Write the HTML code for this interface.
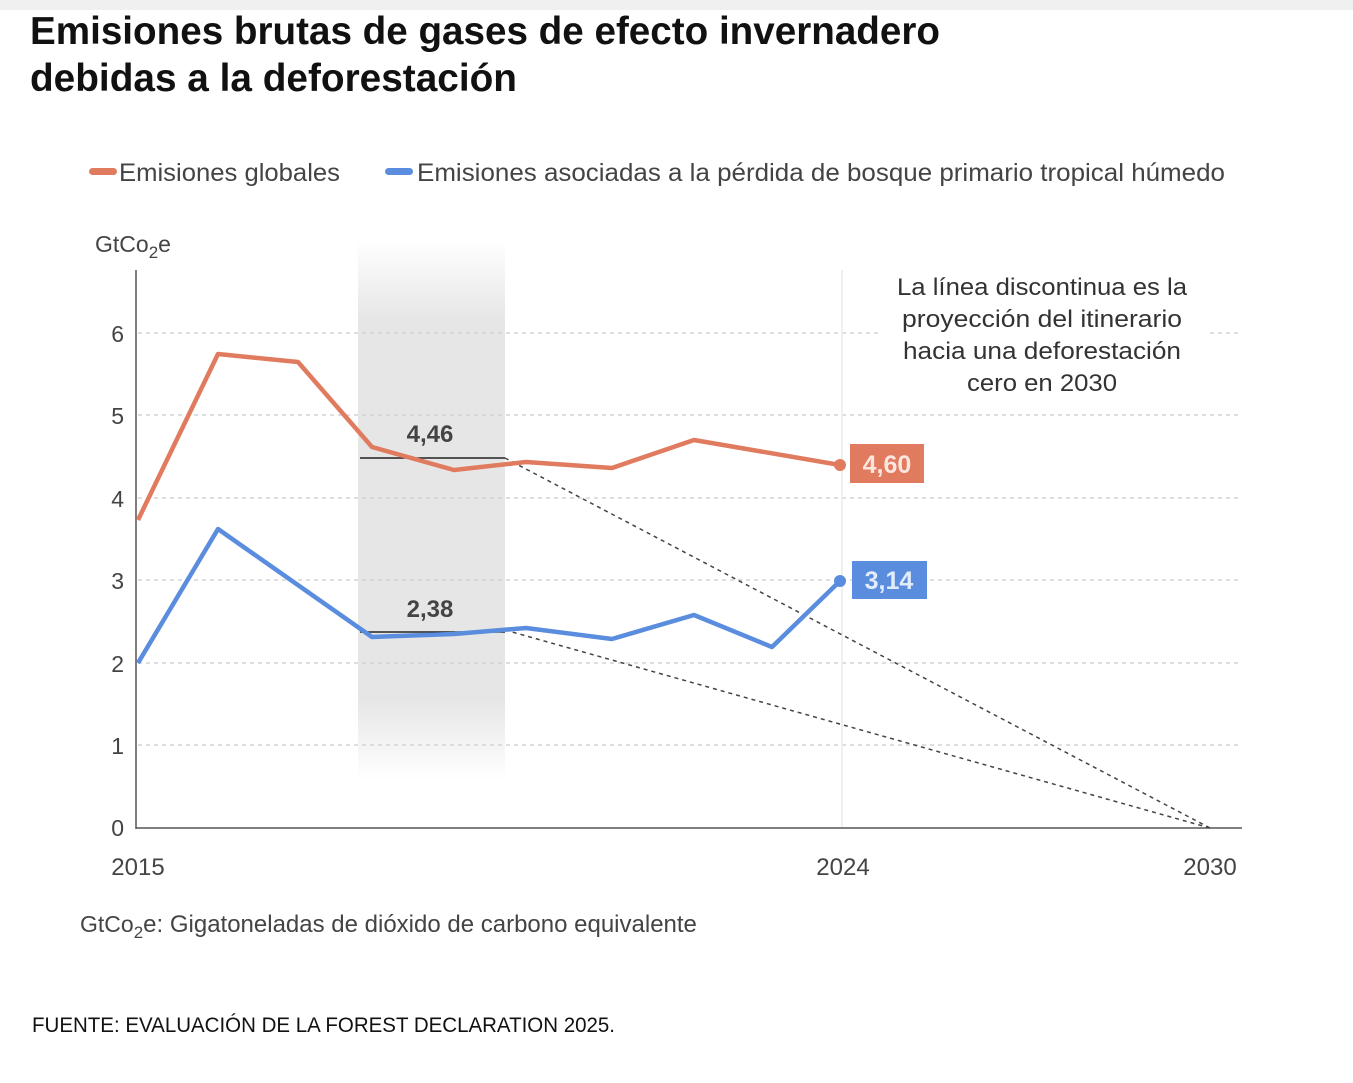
<!DOCTYPE html>
<html><head><meta charset="utf-8"><style>
body{margin:0;background:#fff;width:1353px;height:1078px;overflow:hidden;font-family:"Liberation Sans",sans-serif}
</style></head><body>
<svg width="1353" height="1078" xmlns="http://www.w3.org/2000/svg" font-family="Liberation Sans, sans-serif">
<defs>
<linearGradient id="g" x1="0" y1="0" x2="0" y2="1">
<stop offset="0" stop-color="#e6e6e6" stop-opacity="0"/>
<stop offset="0.15" stop-color="#e6e6e6"/>
<stop offset="0.85" stop-color="#e6e6e6"/>
<stop offset="1" stop-color="#e6e6e6" stop-opacity="0"/>
</linearGradient>
</defs>
<rect x="0" y="0" width="1353" height="10" fill="#f0f0f0"/>
<text x="30" y="44" font-size="39" font-weight="bold" fill="#111" textLength="910" lengthAdjust="spacingAndGlyphs">Emisiones brutas de gases de efecto invernadero</text>
<text x="30" y="91" font-size="39" font-weight="bold" fill="#111" textLength="487" lengthAdjust="spacingAndGlyphs">debidas a la deforestación</text>
<rect x="89" y="168" width="28" height="7" rx="3.5" fill="#e07b5f"/>
<text x="119" y="181" font-size="25" fill="#444" textLength="221" lengthAdjust="spacingAndGlyphs">Emisiones globales</text>
<rect x="385" y="168" width="28" height="7" rx="3.5" fill="#5b8ddf"/>
<text x="417" y="181" font-size="25" fill="#444" textLength="808" lengthAdjust="spacingAndGlyphs">Emisiones asociadas a la pérdida de bosque primario tropical húmedo</text>
<text x="95" y="252" font-size="23" fill="#444">GtCo<tspan font-size="17" dy="6">2</tspan><tspan dy="-6">e</tspan></text>
<rect x="358" y="240" width="147" height="540" fill="url(#g)"/>
<g stroke="#d4d4d4" stroke-width="1.5" stroke-dasharray="4,4">
<line x1="138" y1="333" x2="1242" y2="333"/><line x1="138" y1="415" x2="1242" y2="415"/>
<line x1="138" y1="498" x2="1242" y2="498"/><line x1="138" y1="580" x2="1242" y2="580"/>
<line x1="138" y1="663" x2="1242" y2="663"/><line x1="138" y1="745" x2="1242" y2="745"/>
</g>
<rect x="880" y="270" width="330" height="130" fill="#fff"/>
<line x1="842" y1="270" x2="842" y2="828" stroke="#eaeaea" stroke-width="1.5"/>
<line x1="136" y1="270" x2="136" y2="829" stroke="#555" stroke-width="1.5"/>
<line x1="136" y1="828" x2="1242" y2="828" stroke="#555" stroke-width="1.5"/>
<g font-size="23" fill="#444" text-anchor="end">
<text x="124" y="342">6</text><text x="124" y="424">5</text><text x="124" y="507">4</text>
<text x="124" y="589">3</text><text x="124" y="672">2</text><text x="124" y="754">1</text><text x="124" y="836">0</text>
</g>
<g font-size="24" fill="#444" text-anchor="middle">
<text x="138" y="875">2015</text><text x="843" y="875">2024</text><text x="1210" y="875">2030</text>
</g>
<g font-size="24" fill="#333" text-anchor="middle">
<text x="1042" y="295" textLength="290" lengthAdjust="spacingAndGlyphs">La línea discontinua es la</text>
<text x="1042" y="327" textLength="280" lengthAdjust="spacingAndGlyphs">proyección del itinerario</text>
<text x="1042" y="359" textLength="278" lengthAdjust="spacingAndGlyphs">hacia una deforestación</text>
<text x="1042" y="391" textLength="150" lengthAdjust="spacingAndGlyphs">cero en 2030</text>
</g>
<g stroke="#444" stroke-width="1.5" stroke-dasharray="4,4" fill="none">
<line x1="505" y1="458" x2="1210" y2="828"/>
<line x1="505" y1="630" x2="1210" y2="828"/>
</g>
<line x1="360" y1="458" x2="505" y2="458" stroke="#222" stroke-width="1.5"/>
<line x1="360" y1="632" x2="505" y2="632" stroke="#222" stroke-width="1.5"/>
<text x="430" y="442" font-size="24" font-weight="bold" fill="#444" text-anchor="middle">4,46</text>
<text x="430" y="617" font-size="24" font-weight="bold" fill="#444" text-anchor="middle">2,38</text>
<polyline fill="none" stroke="#e07b5f" stroke-width="4.5" stroke-linejoin="round" points="138,520 218,354 298,362 372,447 454,470 526,462 612,468 694,440 840,465"/>
<circle cx="840" cy="465" r="6" fill="#e07b5f"/>
<polyline fill="none" stroke="#5b8ddf" stroke-width="4.5" stroke-linejoin="round" points="138,663 218,529 372,637 454,634 526,628 612,639 694,615 772,647 840,581"/>
<circle cx="840" cy="581" r="6" fill="#5b8ddf"/>
<rect x="850" y="444" width="74" height="39" fill="#e07b5f"/>
<text x="887" y="473" font-size="25" font-weight="bold" fill="#fbe6df" text-anchor="middle">4,60</text>
<rect x="852" y="561" width="75" height="38" fill="#5b8ddf"/>
<text x="889" y="589" font-size="25" font-weight="bold" fill="#e3ecfb" text-anchor="middle">3,14</text>
<text x="80" y="932" font-size="23" fill="#444">GtCo<tspan font-size="17" dy="6">2</tspan><tspan dy="-6" font-size="24">e: Gigatoneladas de dióxido de carbono equivalente</tspan></text>
<text x="32" y="1032" font-size="21" fill="#111" textLength="583" lengthAdjust="spacingAndGlyphs">FUENTE: EVALUACIÓN DE LA FOREST DECLARATION 2025.</text>
</svg>
</body></html>
